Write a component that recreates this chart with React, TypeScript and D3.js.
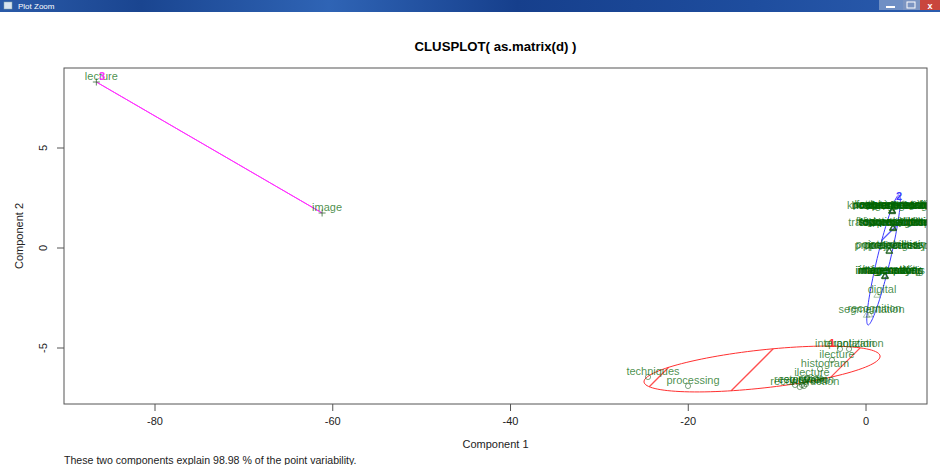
import React from "react";
import * as d3 from "d3";

const WIDTH = 940;
const HEIGHT = 465;

const WINDOW_TITLE = "Plot Zoom";
const TITLE = "CLUSPLOT( as.matrix(d) )";
const X_LABEL = "Component 1";
const Y_LABEL = "Component 2";
const FOOTNOTE = "These two components explain 98.98 % of the point variability.";

const X_DOMAIN = [-90.24, 6.86];
const Y_DOMAIN = [-7.8, 9.0];
const X_TICKS = [-80, -60, -40, -20, 0];
const Y_TICKS = [-5, 0, 5];

// Cluster 1 (red, circles)
const c1Labels = [
  "techniques", "processing", "interpolation", "quantization", "ilecture",
  "histogram", "ilecture", "restoration", "registration", "wavelet", "noise", "reconstruction",
];
const c1X = [-24.53, -20.03, -2.93, -1.91, -3.83, -5.18, -6.64, -7.99, -7.2, -6.98, -6.75, -7.45];
const c1Y = [-6.45, -6.9, -5.05, -5.05, -5.6, -6.05, -6.5, -6.85, -6.85, -6.9, -6.8, -6.95];

// Cluster 2 (blue, triangles)
const c2Labels = [
  "knowledgeextraction", "featureextraction", "boundarydetection", "keypointmatching", "cornerdetection",
  "edgedetection", "regiongrowing", "colorprocessing", "morphologicalfilter", "patternrecognition",
  "thresholding", "classification",
  "transformationspace", "frequencydomain", "fouriertransform", "spatialdomain", "convolution",
  "lowpassfiltering", "highpassfiltering", "discretecosine", "smoothingfilters", "sharpeningfilters",
  "processingsteps", "probabilities", "projections", "properties", "pixelintensity", "pointprocessing",
  "imageanalysis", "information", "intensity", "imagecoding", "imagequality", "illumination",
  "imagemodels", "imagesensing", "imagespaces",
  "digital",
  "segmentation", "recognition",
];
const c2X = [
  2.93, 2.95, 2.9, 2.97, 2.92,
  2.96, 2.91, 2.94, 2.98, 2.9,
  2.95, 2.93,
  3.04, 3.02, 3.06, 3.0, 3.05,
  3.03, 3.07, 3.01, 3.04, 3.06,
  2.62, 2.6, 2.64, 2.58, 2.63, 2.61,
  2.14, 2.12, 2.16, 2.1, 2.15, 2.13,
  2.17, 2.11, 2.14,
  1.24,
  0.06, 0.4,
];
const c2Y = [
  1.85, 1.88, 1.83, 1.9, 1.86,
  1.84, 1.89, 1.87, 1.82, 1.88,
  1.86, 1.85,
  1.0, 1.03, 0.98, 1.02, 0.97,
  1.01, 1.04, 0.99, 1.0, 1.02,
  -0.15, -0.13, -0.17, -0.14, -0.16, -0.12,
  -1.4, -1.38, -1.42, -1.41, -1.37, -1.43,
  -1.39, -1.4, -1.41,
  -2.35,
  -3.35, -3.33,
];

// Cluster 3 (magenta, plus)
const c3Labels = ["lecture", "image"];
const c3X = [-86.6, -61.2];
const c3Y = [8.3, 1.75];

const CLUSTER_NAMES = ["1", "2", "3"];
const CLUSTER_COLORS = ["#ff3030", "#3a3aff", "#ff30ff"];
const CLUSTER_LABEL_X = [-3.83, 3.71, -85.96];
const CLUSTER_LABEL_Y = [-4.75, 2.6, 8.6];

// Ellipses: center and two conjugate semi-axes (data units)
const ELL_CX = [-11.7, 1.97, -73.9];
const ELL_CY = [-6.05, -0.6, 5.025];
const ELL_AX = [13.28, 1.744, 12.7];
const ELL_AY = [0.65, 3.25, -3.275];
const ELL_BX = [0.234, 0.72, 0];
const ELL_BY = [-0.945, -0.0696, 0];
const ELL_SHADE = [true, true, false];

const FONT = "'Liberation Sans', Arial, Helvetica, sans-serif";

export default function App() {
  const left = 64, right = 927, top = 68, bottom = 404;
  const x = d3.scaleLinear().domain(X_DOMAIN).range([left, right]);
  const y = d3.scaleLinear().domain(Y_DOMAIN).range([bottom, top]);

  const clusters = [
    { labels: c1Labels, xs: c1X, ys: c1Y, pch: "circle" },
    { labels: c2Labels, xs: c2X, ys: c2Y, pch: "triangle" },
    { labels: c3Labels, xs: c3X, ys: c3Y, pch: "plus" },
  ];

  // ellipse in pixel space: P(t) = C + A cos t + B sin t
  const ellipseGeom = (i: number) => {
    const cx = x(ELL_CX[i]), cy = y(ELL_CY[i]);
    const ax = x(ELL_CX[i] + ELL_AX[i]) - cx, ay = y(ELL_CY[i] + ELL_AY[i]) - cy;
    const bx = x(ELL_CX[i] + ELL_BX[i]) - cx, by = y(ELL_CY[i] + ELL_BY[i]) - cy;
    return { cx, cy, ax, ay, bx, by };
  };
  const ellipsePts = (i: number) => {
    const g = ellipseGeom(i);
    return d3.range(0, 121).map((k) => {
      const t = (k / 120) * Math.PI * 2;
      return [g.cx + g.ax * Math.cos(t) + g.bx * Math.sin(t), g.cy + g.ay * Math.cos(t) + g.by * Math.sin(t)] as [number, number];
    });
  };
  const pathGen = d3.line();

  const HATCH_SPACING = 86;
  const HATCH_PHASE = 4;

  // 45° hatch segments (x + y = c) clipped analytically to the ellipse
  const hatchSegments = (i: number) => {
    const g = ellipseGeom(i);
    const p = g.ax + g.ay, q = g.bx + g.by, s0 = g.cx + g.cy;
    const R = Math.hypot(p, q);
    const phi = Math.atan2(q, p);
    const k0 = Math.ceil((s0 - R - HATCH_PHASE) / HATCH_SPACING);
    const k1 = Math.floor((s0 + R - HATCH_PHASE) / HATCH_SPACING);
    const segs: string[] = [];
    for (let k = k0; k <= k1; k++) {
      const c = HATCH_PHASE + k * HATCH_SPACING;
      const r = (c - s0) / R;
      if (Math.abs(r) > 1) continue;
      const a = Math.acos(r);
      const pt = (t: number) => [g.cx + g.ax * Math.cos(t) + g.bx * Math.sin(t), g.cy + g.ay * Math.cos(t) + g.by * Math.sin(t)];
      const [x1, y1] = pt(phi + a);
      const [x2, y2] = pt(phi - a);
      segs.push(`M${x1},${y1}L${x2},${y2}`);
    }
    return segs;
  };

  const markerColor = "#1f5f1f";
  const textColor = "#006400";

  const marker = (pch: string, px: number, py: number, key: string) => {
    if (pch === "circle")
      return <circle key={key} cx={px} cy={py} r={2.6} fill="none" stroke={markerColor} strokeWidth={0.8} opacity={0.7} />;
    if (pch === "triangle") {
      const s = 3.2;
      return (
        <path key={key} d={`M${px},${py - s}L${px + s},${py + s * 0.7}L${px - s},${py + s * 0.7}Z`} fill="none" stroke={markerColor} strokeWidth={0.8} opacity={0.45} />
      );
    }
    return <path key={key} d={`M${px - 3.5},${py}H${px + 3.5}M${px},${py - 3.5}V${py + 3.5}`} stroke={markerColor} strokeWidth={0.9} opacity={0.8} />;
  };

  return (
    <svg width={WIDTH} height={HEIGHT} style={{ position: "absolute", left: 0, top: 0, background: "#fff" }} fontFamily={FONT}>
      <defs>
        <linearGradient id="tbar" x1="0" x2="1" y1="0" y2="0">
          <stop offset="0" stopColor="#2a5aa8" />
          <stop offset="0.15" stopColor="#1a4590" />
          <stop offset="0.35" stopColor="#2f64b5" />
          <stop offset="0.55" stopColor="#163f8c" />
          <stop offset="0.8" stopColor="#1e4d9e" />
          <stop offset="1" stopColor="#2b5cae" />
        </linearGradient>
        <clipPath id="plotclip">
          <rect x={left} y={top} width={right - left} height={bottom - top} />
        </clipPath>
      </defs>

      {/* window chrome */}
      <rect x={0} y={0} width={WIDTH} height={12} fill="url(#tbar)" />
      <rect x={4} y={2} width={8} height={7} fill="#d8e4f0" stroke="#8aa" strokeWidth={0.5} />
      <text x={18} y={9} fontSize={8} fill="#fff">{WINDOW_TITLE}</text>
      <rect x={879} y={0} width={24} height={10} fill="#6f8fc4" />
      <rect x={886} y={6} width={9} height={2} fill="#fff" />
      <rect x={903} y={0} width={17} height={10} fill="#7c95c2" />
      <rect x={907} y={2} width={8} height={6} fill="none" stroke="#fff" strokeWidth={1} />
      <rect x={920} y={0} width={20} height={10} fill="#c9463d" />
      <text x={930} y={8.5} fontSize={9} fill="#fff" textAnchor="middle" fontWeight="bold">x</text>

      {/* title */}
      <text x={(left + right) / 2} y={51} fontSize={13.2} fontWeight="bold" textAnchor="middle" fill="#000">{TITLE}</text>

      {/* plot contents */}
      <g clipPath="url(#plotclip)">
        {ELL_CX.map((_, i) => {
          const color = CLUSTER_COLORS[i];
          const segs = ELL_SHADE[i] ? hatchSegments(i) : [];
          return (
            <g key={i}>
              {segs.map((d, j) => (
                <path key={j} d={d} fill="none" stroke={color} strokeWidth={1.3} strokeOpacity={0.85} />
              ))}
              <path d={pathGen(ellipsePts(i)) || ""} fill="none" stroke={color} strokeWidth={1} />
            </g>
          );
        })}
        {clusters.map((c, ci) => (
          <g key={ci}>
            {c.xs.map((vx, j) => marker(c.pch, x(vx), y(c.ys[j]), `m${ci}-${j}`))}
          </g>
        ))}
        {clusters.map((c, ci) => (
          <g key={ci} fill={textColor} fillOpacity={0.72} fontSize={11} textAnchor="middle">
            {c.xs.map((vx, j) => (
              <text key={j} x={x(vx) + 5} y={y(c.ys[j]) - 6} dy="0.35em">{c.labels[j]}</text>
            ))}
          </g>
        ))}
        {CLUSTER_NAMES.map((n, i) => (
          <text key={n} x={x(CLUSTER_LABEL_X[i])} y={y(CLUSTER_LABEL_Y[i])} dy="0.35em" fontSize={11} fontWeight="bold" textAnchor="middle" fill={CLUSTER_COLORS[i]}>{n}</text>
        ))}
      </g>

      {/* box */}
      <rect x={left} y={top} width={right - left} height={bottom - top} fill="none" stroke="#555" strokeWidth={1} />

      {/* x axis */}
      <g>
        {X_TICKS.map((t) => (
          <g key={t}>
            <line x1={x(t)} x2={x(t)} y1={bottom} y2={bottom + 7} stroke="#555" />
            <text x={x(t)} y={421} dy="0.35em" fontSize={11} textAnchor="middle" fill="#222">{t}</text>
          </g>
        ))}
      </g>
      {/* y axis */}
      <g>
        {Y_TICKS.map((t) => (
          <g key={t}>
            <line x1={left} x2={left - 7} y1={y(t)} y2={y(t)} stroke="#555" />
            <text x={43} y={y(t)} dy="0.35em" fontSize={11} textAnchor="middle" fill="#222" transform={`rotate(-90 43 ${y(t)})`}>{t}</text>
          </g>
        ))}
      </g>

      <text x={(left + right) / 2} y={444} dy="0.35em" fontSize={11} textAnchor="middle" fill="#222">{X_LABEL}</text>
      <text x={19} y={(top + bottom) / 2} dy="0.35em" fontSize={11} textAnchor="middle" fill="#222" transform={`rotate(-90 19 ${(top + bottom) / 2})`}>{Y_LABEL}</text>
      <text x={64} y={460} dy="0.35em" fontSize={10.6} fill="#222">{FOOTNOTE}</text>
    </svg>
  );
}
